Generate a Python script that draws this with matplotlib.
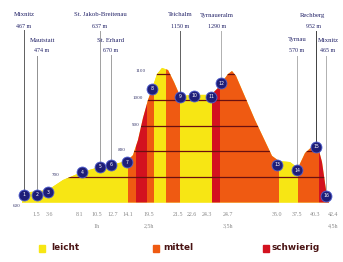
import matplotlib.pyplot as plt
from matplotlib.patches import Polygon

# Data ===========================================
# profile outline: position along the drawing, elevation in m
prof_pos  = [22, 30, 48, 63, 82, 100, 111, 127, 133, 138, 143, 148, 152, 157, 162, 168, 174, 180,
             195, 211, 218, 222, 228, 232, 236, 255, 272, 279, 290, 298, 305, 314, 318, 322, 327, 329]
prof_elev = [622, 641, 649, 688, 719, 739, 747, 762, 785, 844, 930, 1000, 1043, 1101, 1125, 1117, 1070, 1016,
             1020, 1020, 1047, 1070, 1101, 1113, 1094, 922, 782, 762, 758, 735, 793, 825, 817, 758, 622, 610]
base_elev = 600

# difficulty sections (from, to, level)
sect_from  = [22, 128, 136, 147, 154, 166, 180, 212, 220, 279, 298, 319]
sect_to    = [128, 136, 147, 154, 166, 180, 212, 220, 279, 298, 319, 330]
sect_level = ['leicht', 'mittel', 'schwierig', 'mittel', 'leicht', 'mittel', 'leicht',
              'schwierig', 'mittel', 'leicht', 'mittel', 'schwierig']

# numbered stops
stop_pos  = [24, 37, 48, 82, 100, 111, 127, 152, 180, 194, 211, 221, 277, 297, 316, 326]
stop_elev = [630, 630, 641, 719, 739, 747, 758, 1043, 1012, 1016, 1012, 1066, 747, 727, 817, 626]

# km labels for stops 2..16
km_labels = ['1.5', '3.6', '8.1', '10.5', '12.7', '14.1', '19.5', '21.5', '22.6',
             '24.3', '24.7', '35.0', '37.5', '40.3', '42.4']
hour_labels = {3: '1h', 6: '2,5h', 10: '3,5h', 14: '4,5h'}

# place names
places     = ['Mixnitz', 'Mautstatt', 'St. Jakob-Breitenau', 'St. Erhard', 'Teichalm',
              'Tyrnaueralm', 'Tyrnau', 'Rechberg', 'Mixnitz']
place_alt  = ['467 m', '474 m', '637 m', '670 m', '1150 m', '1290 m', '570 m', '952 m', '465 m']
place_stop = [0, 1, 4, 5, 8, 11, 13, 14, 15]

elev_grid = [700, 800, 900, 1000, 1100]

# General ========================================
W, H = 343, 262
Y_TOP, Y_BOT = 1390, 368.2
def px2elev(y):
    return Y_TOP - y * (Y_TOP - Y_BOT) / H

colors = {'leicht': '#f7e614', 'mittel': '#ef5a12', 'schwierig': '#d3121f'}
navy = '#1e1e78'

fig = plt.figure(figsize=(W / 100, H / 100), dpi=100)
ax = fig.add_axes([0, 0, 1, 1])
ax.set_xlim(0, W)
ax.set_ylim(Y_BOT, Y_TOP)
ax.axis('off')

# profile shape
verts = [(prof_pos[0], base_elev)] + list(zip(prof_pos, prof_elev)) + [(prof_pos[-1], base_elev)]
shape = Polygon(verts, closed=True, facecolor=colors['leicht'], edgecolor='none')
ax.add_patch(shape)

for a, b, lv in zip(sect_from, sect_to, sect_level):
    sp = ax.axvspan(a, b, color=colors[lv], lw=0)
    sp.set_clip_path(shape)

# height lines + labels
grid_start = [62, 128, 141, 146, 150]
label_xy = [(59, 177), (126, 152), (140, 127), (143, 100), (146, 73)]
for e, xs, (lx, ly) in zip(elev_grid, grid_start, label_xy):
    ln, = ax.plot([xs, 330], [e, e], color='#6a1010', lw=0.9)
    ln.set_clip_path(shape)
    fig.text(lx / W, 1 - ly / H, str(e), fontsize=3.6, color='#35356a',
             family='Liberation Serif', ha='right', va='bottom')
fig.text(21 / W, 1 - 208 / H, str(base_elev), fontsize=3.6, color='#35356a',
         family='Liberation Serif', ha='right', va='bottom')

# place names with drop lines
name_xy  = [(24, 15), (42, 40), (100, 15), (111, 40), (180, 15), (217, 15), (297, 40), (313, 15), (328, 40)]
line_top = [30, 56, 31, 55, 31, 31, 56, 31, 56]
line_col = ['#606060', '#909090', '#a0a0a0', '#a0a0a0', '#606060', '#b0b0b0', '#b0b0b0', '#404040', '#b0b0b0']
for nm, alt, si, (nx, ny), lt, lc in zip(places, place_alt, place_stop, name_xy, line_top, line_col):
    x = stop_pos[si]
    ax.plot([x, x], [px2elev(lt), stop_elev[si]], color=lc, lw=0.7, zorder=3)
    fig.text(nx / W, 1 - ny / H, nm, fontsize=4.8, color='#202066',
             family='Liberation Serif', ha='center', va='center')
    fig.text(nx / W, 1 - (ny + 11) / H, alt, fontsize=4.3, color='#202066',
             family='Liberation Serif', ha='center', va='center')

# stops
ax.scatter(stop_pos, stop_elev, s=62, color=navy, edgecolor='#5060d0', lw=0.6, zorder=5)
for i, (x, e) in enumerate(zip(stop_pos, stop_elev)):
    ax.text(x, e, str(i + 1), fontsize=3.3, color='white', ha='center', va='center', zorder=6)

# km labels
tick_pos = [36, 50, 80, 97, 113, 128, 149, 178, 192, 207, 228, 277, 297, 315, 333]
for i, (x, lab) in enumerate(zip(tick_pos, km_labels)):
    fig.text(x / W, 1 - 214 / H, lab, fontsize=4.3, color='#8a8a8a',
             family='Liberation Serif', ha='center', va='center')
    if i in hour_labels:
        fig.text(x / W, 1 - 226 / H, hour_labels[i], fontsize=4.3, color='#8a8a8a',
                 family='Liberation Serif', ha='center', va='center')

# legend
leg_x = [(42, 51), (156, 163), (266, 272)]
for (sx, tx), lv in zip(leg_x, ['leicht', 'mittel', 'schwierig']):
    fig.patches.append(plt.Rectangle(((sx - 3) / W, 1 - 252 / H), 6 / W, 7 / H,
                                     transform=fig.transFigure, color=colors[lv]))
    fig.text(tx / W, 1 - 248 / H, lv, fontsize=6.4, color='#4a1414', weight='bold',
             family=['Liberation Sans Narrow', 'DejaVu Sans'], ha='left', va='center')

plt.savefig('out.png', dpi=100, facecolor='white')
